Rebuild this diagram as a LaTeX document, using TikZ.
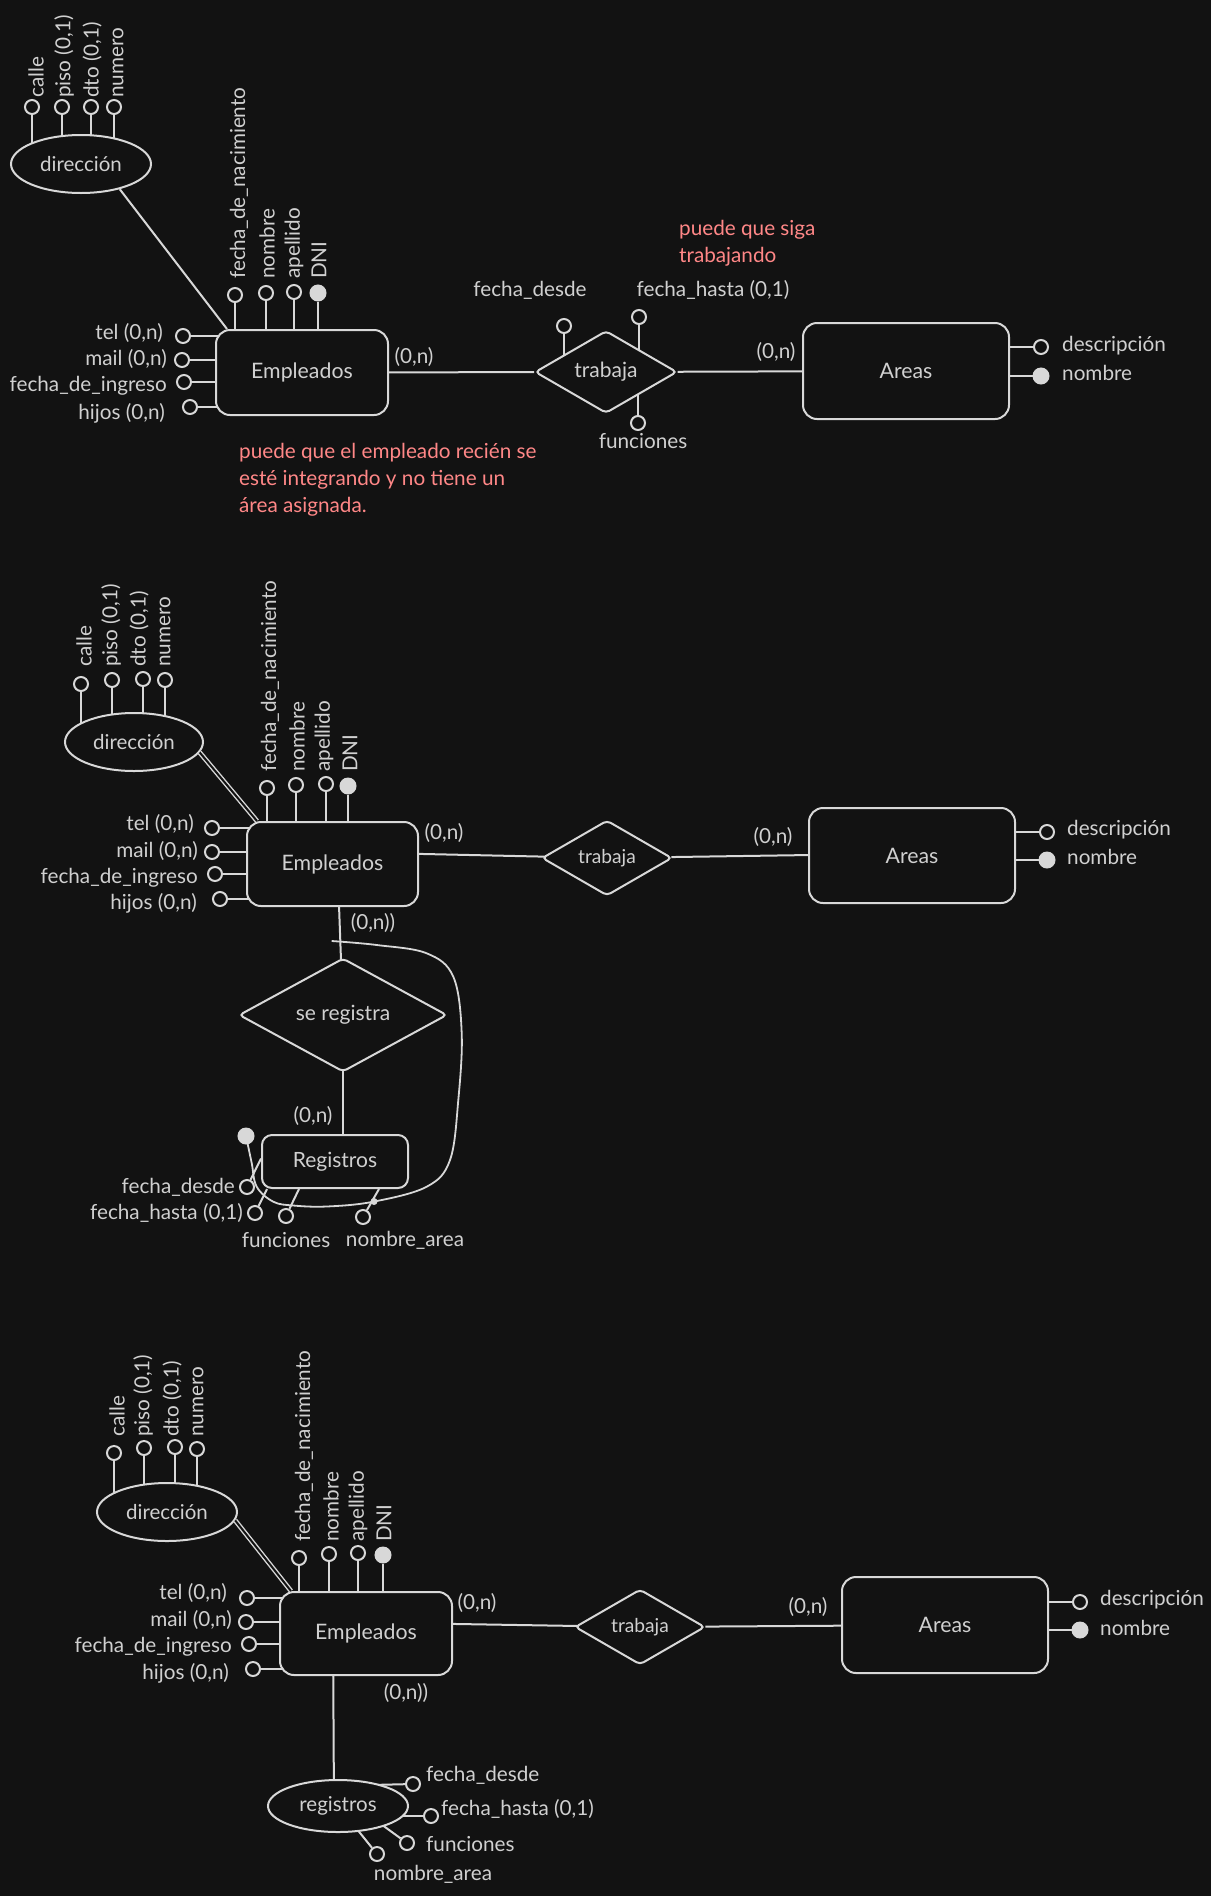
\documentclass[tikz,border=0pt]{standalone}
\usepackage{fontspec}
\setmainfont{Lato}
\usetikzlibrary{shapes.geometric,backgrounds}
\definecolor{bg}{HTML}{121212}
\definecolor{lc}{HTML}{D8D8D8}
\definecolor{tc}{HTML}{D0D0D0}
\definecolor{rc}{HTML}{FF8787}
\tikzset{
  lbl/.style={inner sep=0pt, text=tc, font=\fontsize{20.7}{24}\selectfont},
  vlbl/.style={lbl, rotate=90, anchor=west},
  att/.style={circle, draw=lc, fill=bg, line width=2pt, minimum size=14pt, inner sep=0pt},
  keyatt/.style={circle, draw=lc, fill=lc, line width=1pt, minimum size=16pt, inner sep=0pt},
  ent/.style={draw=lc, fill=bg, rounded corners=14pt, line width=2pt, inner sep=0pt, text=tc, font=\fontsize{21.3}{25}\selectfont},
  rel/.style={diamond, draw=lc, fill=bg, rounded corners=4pt, line width=2pt, inner sep=0pt, text=tc, font=\fontsize{21}{25}\selectfont},
  ell/.style={ellipse, draw=lc, fill=bg, line width=2pt, inner sep=0pt, text=tc, font=\fontsize{20.5}{24}\selectfont, minimum width=140pt, minimum height=58pt},
  note/.style={inner sep=0pt, text=rc, align=left, anchor=west, font=\fontsize{20.7}{27}\selectfont},
  conn/.style={draw=lc, line width=2pt},
  dbl/.style={draw=lc, line width=1.4pt, double=bg, double distance=2pt}
}
\begin{document}
\begin{tikzpicture}[x=1pt, y=-1pt, color=lc]
\begin{scope}[on background layer]
\fill[bg] (0,0) rectangle (1211,1896);
\end{scope}
\useasboundingbox (0,0) rectangle (1211,1896);

% ================= Section 1 =================
\node[ell] (dir1) at (81,164) {dirección};
\node[att] (d1a) at (32,107) {};
\node[att] (d1b) at (62,107) {};
\node[att] (d1c) at (91,107) {};
\node[att] (d1d) at (114,107) {};
\node[vlbl] (d1al) at (36,98) {calle};
\node[vlbl] (d1bl) at (64,98) {piso (0,1)};
\node[vlbl] (d1cl) at (92,98) {dto (0,1)};
\node[vlbl] (d1dl) at (118,98) {numero};

\node[ent, minimum width=172pt, minimum height=85pt] (emp1) at (302,372.5) {Empleados};
\node[att] (e1a) at (235,295) {};
\node[att] (e1b) at (266,293) {};
\node[att] (e1c) at (294,292) {};
\node[keyatt] (e1d) at (318,293) {};
\node[vlbl] (e1al) at (239,279) {fecha\_de\_nacimiento};
\node[vlbl] (e1bl) at (267,279) {nombre};
\node[vlbl] (e1cl) at (294,279) {apellido};
\node[vlbl] (e1dl) at (319,279) {DNI};
\node[att] (e1e) at (183,336) {};
\node[att] (e1f) at (182,360) {};
\node[att] (e1g) at (184,382) {};
\node[att] (e1h) at (190,407) {};
\node[lbl, anchor=east] (e1el) at (163,333) {tel (0,n)};
\node[lbl, anchor=east] (e1fl) at (167,359) {mail (0,n)};
\node[lbl, anchor=east] (e1gl) at (167,386) {fecha\_de\_ingreso};
\node[lbl, anchor=east] (e1hl) at (165,413) {hijos (0,n)};

\node[rel, minimum width=142pt, minimum height=69pt] (tr1) at (606,372) {trabaja};
\node[att] (t1a) at (564,326) {};
\node[att] (t1b) at (639,317) {};
\node[att] (t1c) at (638,423) {};
\node[lbl] (t1al) at (530,290) {fecha\_desde};
\node[lbl] (t1bl) at (713,290) {fecha\_hasta (0,1)};
\node[lbl] (t1cl) at (643,441) {funciones};

\node[ent, minimum width=206pt, minimum height=96pt] (ar1) at (906,371) {Areas};
\node[att] (a1a) at (1041,347) {};
\node[keyatt] (a1b) at (1041,376) {};
\node[lbl, anchor=west] (a1al) at (1062,346) {descripción};
\node[lbl, anchor=west] (a1bl) at (1062,373) {nombre};

\node[lbl] (c1a) at (414,357) {(0,n)};
\node[lbl] (c1b) at (776,352) {(0,n)};

\node[note] (n1) at (679,243.5) {puede que siga\\trabajando};
\node[note] (n2) at (239,480) {puede que el empleado recién se\\esté integrando y no tiene un\\área asignada.};

\draw[conn] (dir1.-33) -- ([xshift=12pt]emp1.north west);

% ================= Section 2 =================
\node[ell, minimum width=138pt] (dir2) at (134,742) {dirección};
\node[att] (d2a) at (81,684) {};
\node[att] (d2b) at (112,680) {};
\node[att] (d2c) at (143,679) {};
\node[att] (d2d) at (165,680) {};
\node[vlbl] (d2al) at (84,667) {calle};
\node[vlbl] (d2bl) at (111,667) {piso (0,1)};
\node[vlbl] (d2cl) at (139,667) {dto (0,1)};
\node[vlbl] (d2dl) at (165,667) {numero};

\node[ent, minimum width=171pt, minimum height=84pt] (emp2) at (332.5,864) {Empleados};
\node[att] (e2a) at (267,788) {};
\node[att] (e2b) at (296,785) {};
\node[att] (e2c) at (326,784) {};
\node[keyatt] (e2d) at (348,786) {};
\node[vlbl] (e2al) at (270,772) {fecha\_de\_nacimiento};
\node[vlbl] (e2bl) at (297,772) {nombre};
\node[vlbl] (e2cl) at (324,772) {apellido};
\node[vlbl] (e2dl) at (350,772) {DNI};
\node[att] (e2e) at (212,828) {};
\node[att] (e2f) at (212,852) {};
\node[att] (e2g) at (215,874) {};
\node[att] (e2h) at (220,899) {};
\node[lbl, anchor=east] (e2el) at (194,824) {tel (0,n)};
\node[lbl, anchor=east] (e2fl) at (198,851) {mail (0,n)};
\node[lbl, anchor=east] (e2gl) at (198,878) {fecha\_de\_ingreso};
\node[lbl, anchor=east] (e2hl) at (197,903) {hijos (0,n)};

\node[rel, minimum width=130pt, minimum height=66pt, font=\fontsize{19.2}{22}\selectfont] (tr2) at (607,858) {trabaja};

\node[ent, minimum width=206pt, minimum height=95pt] (ar2) at (912,855.5) {Areas};
\node[att] (a2a) at (1047,832) {};
\node[keyatt] (a2b) at (1047,860) {};
\node[lbl, anchor=west] (a2al) at (1067,830) {descripción};
\node[lbl, anchor=west] (a2bl) at (1067,857) {nombre};

\node[lbl] (c2a) at (444,833) {(0,n)};
\node[lbl] (c2b) at (773,837) {(0,n)};
\node[lbl] (c2c) at (373,923) {(0,n))};
\node[lbl] (c2d) at (313,1116) {(0,n)};

\node[rel, minimum width=208pt, minimum height=88pt] (sr) at (343,1015) {se registra};

\node[ent, rounded corners=10pt, minimum width=146pt, minimum height=53pt, font=\fontsize{21}{25}\selectfont] (reg2) at (335,1161.5) {Registros};
\node[keyatt] (r2k) at (246,1136) {};
\node[att] (r2a) at (247,1187) {};
\node[att] (r2b) at (255,1213) {};
\node[att] (r2c) at (286,1216) {};
\node[att] (r2d) at (363,1217) {};
\node[lbl, anchor=east] (r2al) at (235,1187) {fecha\_desde};
\node[lbl, anchor=east] (r2bl) at (243,1213) {fecha\_hasta (0,1)};
\node[lbl] (r2cl) at (286,1240) {funciones};
\node[lbl] (r2dl) at (405,1240) {nombre\_area};
\node[circle, fill=lc, minimum size=7pt, inner sep=0pt] (dot2) at (374,1201.5) {};

\draw[dbl] (dir2.-9) -- ([xshift=11pt]emp2.north west);

% ================= Section 3 =================
\node[ell] (dir3) at (167,1512) {dirección};
\node[att] (d3a) at (114,1453) {};
\node[att] (d3b) at (144,1448) {};
\node[att] (d3c) at (175,1447) {};
\node[att] (d3d) at (197,1449) {};
\node[vlbl] (d3al) at (117,1437) {calle};
\node[vlbl] (d3bl) at (143,1437) {piso (0,1)};
\node[vlbl] (d3cl) at (172,1437) {dto (0,1)};
\node[vlbl] (d3dl) at (198,1437) {numero};

\node[ent, minimum width=172pt, minimum height=83pt] (emp3) at (366,1633.5) {Empleados};
\node[att] (e3a) at (299,1558) {};
\node[att] (e3b) at (329,1554) {};
\node[att] (e3c) at (358,1553) {};
\node[keyatt] (e3d) at (383,1555) {};
\node[vlbl] (e3al) at (304,1542) {fecha\_de\_nacimiento};
\node[vlbl] (e3bl) at (331,1542) {nombre};
\node[vlbl] (e3cl) at (358,1542) {apellido};
\node[vlbl] (e3dl) at (384,1542) {DNI};
\node[att] (e3e) at (247,1598) {};
\node[att] (e3f) at (246,1622) {};
\node[att] (e3g) at (249,1644) {};
\node[att] (e3h) at (253,1669) {};
\node[lbl, anchor=east] (e3el) at (227,1593) {tel (0,n)};
\node[lbl, anchor=east] (e3fl) at (232,1620) {mail (0,n)};
\node[lbl, anchor=east] (e3gl) at (232,1647) {fecha\_de\_ingreso};
\node[lbl, anchor=east] (e3hl) at (229,1673) {hijos (0,n)};

\node[rel, minimum width=130pt, minimum height=66pt, font=\fontsize{19.2}{22}\selectfont] (tr3) at (640,1627) {trabaja};

\node[ent, minimum width=206pt, minimum height=96pt] (ar3) at (945,1625) {Areas};
\node[att] (a3a) at (1080,1602) {};
\node[keyatt] (a3b) at (1080,1630) {};
\node[lbl, anchor=west] (a3al) at (1100,1600) {descripción};
\node[lbl, anchor=west] (a3bl) at (1100,1628) {nombre};

\node[lbl] (c3a) at (477,1603) {(0,n)};
\node[lbl] (c3b) at (808,1607) {(0,n)};
\node[lbl] (c3c) at (406,1693) {(0,n))};

\node[ell, minimum height=52pt] (reg3) at (338,1806) {registros};
\node[att] (r3a) at (413,1784) {};
\node[att] (r3b) at (431,1816) {};
\node[att] (r3c) at (407,1843) {};
\node[att] (r3d) at (377,1854) {};
\node[lbl, anchor=west] (r3al) at (426,1775) {fecha\_desde};
\node[lbl, anchor=west] (r3bl) at (441,1809) {fecha\_hasta (0,1)};
\node[lbl, anchor=west] (r3cl) at (426,1844) {funciones};
\node[lbl] (r3dl) at (433,1874) {nombre\_area};
\coordinate (r3aE) at (370,1785);
\coordinate (r3bE) at (380,1816);
\coordinate (r3cE) at (374,1819);
\coordinate (r3dE) at (352,1823);

\draw[dbl] (dir3.-7) -- ([xshift=12pt]emp3.north west);

% ================= connectors (behind) =================
\begin{scope}[on background layer]
\foreach \a in {d1a,d1b,d1c,d1d} \draw[conn] (\a) -- (\a |- dir1.center);
\foreach \a in {e1a,e1b,e1c,e1d} \draw[conn] (\a) -- (\a |- emp1.center);
\foreach \a in {e1e,e1f,e1g,e1h} \draw[conn] (\a) -- (\a -| emp1.center);
\foreach \a in {t1a,t1b,t1c} \draw[conn] (\a) -- (\a |- tr1.center);
\foreach \a in {a1a,a1b} \draw[conn] (\a) -- (\a -| ar1.center);
\draw[conn] (emp1) -- (tr1);
\draw[conn] (tr1) -- (ar1);

\foreach \a in {d2a,d2b,d2c,d2d} \draw[conn] (\a) -- (\a |- dir2.center);
\foreach \a in {e2a,e2b,e2c,e2d} \draw[conn] (\a) -- (\a |- emp2.center);
\foreach \a in {e2e,e2f,e2g,e2h} \draw[conn] (\a) -- (\a -| emp2.center);
\foreach \a in {a2a,a2b} \draw[conn] (\a) -- (\a -| ar2.center);
\draw[conn] ([yshift=12pt]emp2.center) -- (tr2.center);
\draw[conn] (tr2) -- ([yshift=2pt]ar2.center);
\draw[conn] ([xshift=5pt]emp2.center) -- (sr.center);
\draw[conn] (sr.center) -- ([xshift=8pt]reg2.center);
\draw[conn] (r2a) -- ([yshift=3pt]reg2.west);
\draw[conn] (r2b) -- ([xshift=6pt]reg2.south west);
\draw[conn] (r2c) -- ([xshift=38pt]reg2.south west);
\draw[conn] (r2d) -- ([xshift=118pt]reg2.south west);
\draw[conn, line width=1.8pt] plot[smooth, tension=0.6] coordinates {(r2k) (251.7,1163) (256.7,1186.7) (273.3,1201.7) (293.3,1205.5) (326.7,1206.5) (373.3,1201.7) (426.7,1186.7) (450,1160) (458.3,1100) (461.7,1033) (453.3,976.7) (426.7,953.3) (376.7,945) (331.7,941)};

\foreach \a in {d3a,d3b,d3c,d3d} \draw[conn] (\a) -- (\a |- dir3.center);
\foreach \a in {e3a,e3b,e3c,e3d} \draw[conn] (\a) -- (\a |- emp3.center);
\foreach \a in {e3e,e3f,e3g,e3h} \draw[conn] (\a) -- (\a -| emp3.center);
\foreach \a in {a3a,a3b} \draw[conn] (\a) -- (\a -| ar3.center);
\draw[conn] ([yshift=11pt]emp3.center) -- (tr3.center);
\draw[conn] (tr3) -- (ar3);
\draw[conn] ([xshift=-33pt]emp3.center) -- ([xshift=-4pt]reg3.center);
\draw[conn] (r3a) -- (r3aE);
\draw[conn] (r3b) -- (r3bE);
\draw[conn] (r3c) -- (r3cE);
\draw[conn] (r3d) -- (r3dE);
\end{scope}
\end{tikzpicture}
\end{document}
